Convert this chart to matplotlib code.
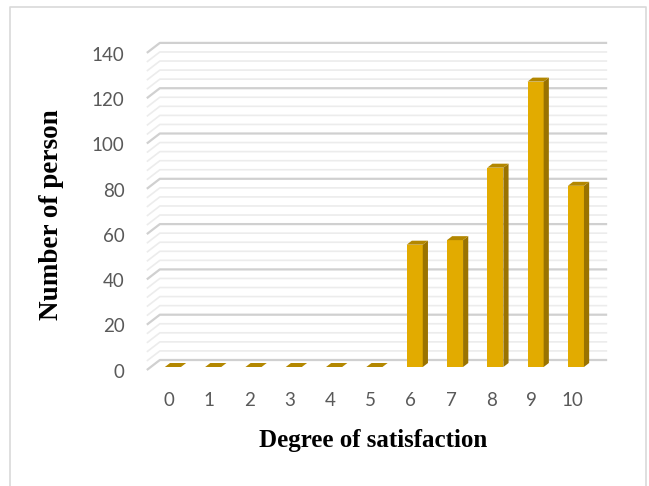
import numpy as np
import matplotlib.pyplot as plt
from matplotlib.patches import Polygon
from matplotlib.lines import Line2D

# survey results
scores = [0, 1, 2, 3, 4, 5, 6, 7, 8, 9, 10]
counts = [0, 0, 0, 0, 0, 0, 54, 56, 88, 126, 80]
y_ticks = [0, 20, 40, 60, 80, 100, 120, 140]

W, H = 649, 486
fig = plt.figure(figsize=(W / 100, H / 100), dpi=100)

# one axes over the whole figure, scaled so one unit = one category / one person
px_cat = 40.3
px_val = 2.265
x0_px, y0_px = 172.9, 370
ax = fig.add_axes([0, 0, 1, 1])
ax.set_xlim(-x0_px / px_cat, (W - x0_px) / px_cat)
ax.set_ylim((y0_px - H) / px_val, y0_px / px_val)
ax.axis('off')

# depth of the 3d box (full floor depth) in data units
DX = 13 / px_cat
DY = 10 / px_val
BAR_D0, BAR_D1 = 0.3, 0.7


def proj(x, y, d):
    return (x + (d - BAR_D0) * DX, y + d * DY)


# walls: side wall diagonals + back wall gridlines
xl, xr = -0.55, 10.55
for v in np.arange(0, 141, 4):
    major = v % 20 == 0
    col = '#d0d0d0' if major else '#ececec'
    lw = 1.6 if major else 1.2
    a = proj(xl, v, 0)
    b = proj(xl, v, 1)
    c = proj(xr, v, 1)
    ax.plot([a[0], b[0], c[0]], [a[1], b[1], c[1]], color=col, lw=lw,
            solid_capstyle='butt', zorder=1)

# 3d columns
bw = 0.40
front_c = '#e2ab00'
side_c = '#9a7300'
top_c = '#b38700'
for s, n in zip(scores, counts):
    l, r = s - bw / 2, s + bw / 2
    top = [proj(l, n, BAR_D0), proj(r, n, BAR_D0), proj(r, n, BAR_D1), proj(l, n, BAR_D1)]
    if n > 0:
        front = [proj(l, 0, BAR_D0), proj(r, 0, BAR_D0), proj(r, n, BAR_D0), proj(l, n, BAR_D0)]
        side = [proj(r, 0, BAR_D0), proj(r, 0, BAR_D1), proj(r, n, BAR_D1), proj(r, n, BAR_D0)]
        ax.add_patch(Polygon(front, closed=True, fc=front_c, ec='none', zorder=3))
        ax.add_patch(Polygon(side, closed=True, fc=side_c, ec='none', zorder=3))
    ax.add_patch(Polygon(top, closed=True, fc=top_c, ec='none', zorder=4))

# tick labels
tick_font = dict(family='Lato', size=13.5, color='#595959')
for s in scores:
    ax.text(proj(s, 0, 0)[0], -13.5, str(s), ha='center', va='center', **tick_font)
for v in y_ticks:
    ax.text(-1.2, v - 1, str(v), ha='right', va='center', **tick_font)

# axis titles
title_font = dict(family='Liberation Serif', weight='bold', color='black')
fig.text(373 / W, 1 - 440 / H, 'Degree of satisfaction', ha='center', va='center',
         size=18, **title_font)
fig.text(52 / W, 1 - 215 / H, 'Number of person', ha='center', va='center',
         rotation=90, size=19.5, **title_font)

# chart frame (left, top, right)
fx = lambda p: p / W
fy = lambda p: 1 - p / H
fig.add_artist(Line2D([fx(9.5), fx(9.5), fx(645.5), fx(645.5)],
                      [fy(486), fy(7.5), fy(7.5), fy(486)],
                      color='#d9d9d9', lw=1.2))

fig.savefig('out.png', dpi=100)
